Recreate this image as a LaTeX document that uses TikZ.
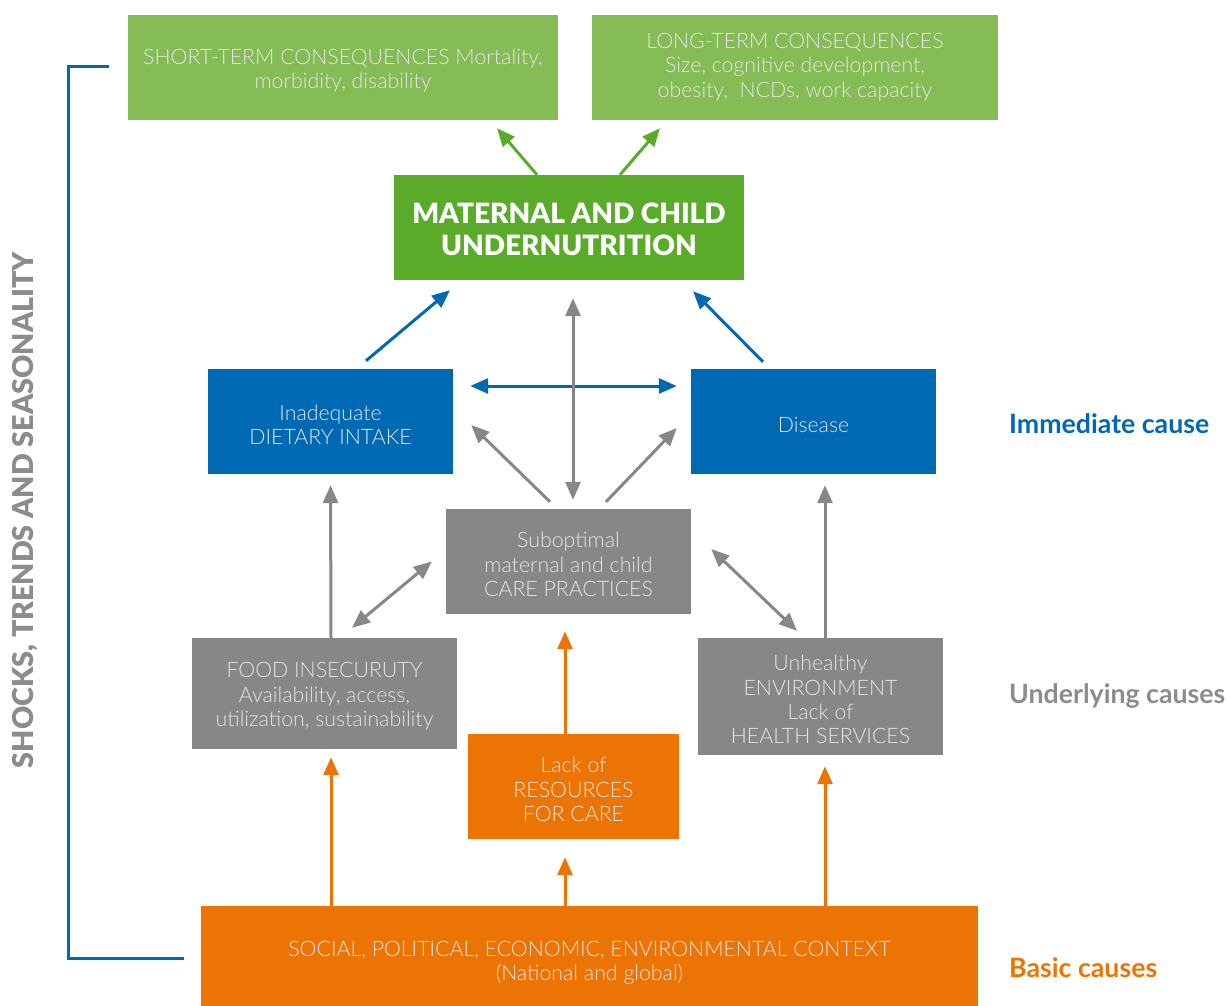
\documentclass[tikz,border=0pt]{standalone}
\usepackage{fontspec}
\setmainfont{Lato Light}
\newfontfamily\latoheavy{Lato Black}
\newfontfamily\latoreg{Lato}
\usetikzlibrary{arrows.meta,calc}
\definecolor{gLight}{HTML}{86BC56}
\definecolor{gDark}{HTML}{5AAB2A}
\definecolor{bBlue}{HTML}{0069B4}
\definecolor{bGray}{HTML}{878787}
\definecolor{bOrange}{HTML}{EC7404}
\definecolor{lGray}{HTML}{8C8C8C}
\tikzset{
  box/.style={rectangle, inner sep=0pt},
  txt/.style={inner sep=0pt, align=center, text=white!90!black,
    font=\fontsize{21.3}{24.3}\selectfont},
  conn/.style={line width=3pt, -{Triangle[length=18pt,width=15pt]}},
  dconn/.style={line width=3pt, {Triangle[length=18pt,width=15pt]}-{Triangle[length=18pt,width=15pt]}},
  sidelabel/.style={anchor=west, inner sep=0pt, font=\latoreg\bfseries\fontsize{26.7}{30}\selectfont},
}
\begin{document}
\begin{tikzpicture}[x=1pt,y=-1pt]
\useasboundingbox (0,0) rectangle (1227,1006);
% boxes
\node[box, fill=gLight, minimum width=430, minimum height=105] (st) at (343,67.5) {};
\node[txt] (stT) at ([yshift=-3]st.center)
  {SHORT-TERM CONSEQUENCES Mortality,\\morbidity, disability};
\node[box, fill=gLight, minimum width=406, minimum height=105] (lt) at (795,67.5) {};
\node[txt] (ltT) at ([yshift=0.5]lt.center)
  {LONG-TERM CONSEQUENCES\\Size, cognitive development,\\obesity,\ \ NCDs, work capacity};
\node[box, fill=gDark, minimum width=350, minimum height=105] (mat) at (569,227.5) {};
\node[txt, text=white, font=\latoheavy\fontsize{28}{32}\selectfont] (matT) at ([yshift=-2]mat.center)
  {MATERNAL AND CHILD\\UNDERNUTRITION};
\node[box, fill=bBlue, minimum width=245, minimum height=105] (diet) at (330.5,421.5) {};
\node[txt] (dietT) at ([yshift=-3]diet.center) {Inadequate\\DIETARY INTAKE};
\node[box, fill=bBlue, minimum width=245, minimum height=105] (dis) at (813.5,421.5) {};
\node[txt] (disT) at ([yshift=-3]dis.center) {Disease};
\node[box, fill=bGray, minimum width=245, minimum height=105] (care) at (568.5,561.5) {};
\node[txt] (careT) at ([yshift=-3]care.center) {Suboptimal\\maternal and child\\CARE PRACTICES};
\node[box, fill=bGray, minimum width=265, minimum height=111] (food) at (324.5,693.5) {};
\node[txt] (foodT) at ([yshift=-3]food.center) {FOOD INSECURUTY\\Availability, access,\\utilization, sustainability};
\node[box, fill=bGray, minimum width=245, minimum height=117] (env) at (820.5,696.5) {};
\node[txt] (envT) at ([yshift=-3]env.center) {Unhealthy\\ENVIRONMENT\\Lack of\\HEALTH SERVICES};
\node[box, fill=bOrange, minimum width=211, minimum height=105] (res) at (573.5,786.5) {};
\node[txt] (resT) at ([yshift=-3]res.center) {Lack of\\RESOURCES\\FOR CARE};
\node[box, fill=bOrange, minimum width=777, minimum height=100] (soc) at (589.5,956) {};
\node[txt] (socT) at ([yshift=-7]soc.center)
  {SOCIAL, POLITICAL, ECONOMIC, ENVIRONMENTAL CONTEXT\\(National and global)};
% side labels
\node[sidelabel, text=bBlue] (imm) at (1009,424) {Immediate cause};
\node[sidelabel, text=lGray] (und) at (1009,696) {Underlying causes};
\node[sidelabel, text=bOrange] (bas) at (1009,968) {Basic causes};
\node[rotate=90, inner sep=0pt, text=lGray, font=\latoheavy\fontsize{28.7}{32}\selectfont] (shk) at (25,510)
  {SHOCKS, TRENDS AND SEASONALITY};
% bracket
\coordinate (brT) at (109,67);
\coordinate (brB) at (184,958);
\draw[bBlue, line width=3pt] (brT) -| (68,958) -- (brB);
% green arrows
\draw[conn, gDark] ([xshift=-32]mat.north) -- ([xshift=154,yshift=-8]st.south);
\draw[conn, gDark] ([xshift=51]mat.north) -- ([xshift=-135,yshift=-8]lt.south);
% blue arrows
\draw[conn, bBlue] ([xshift=35.5,yshift=8]diet.north) -- ([xshift=-119,yshift=-10]mat.south);
\draw[conn, bBlue] ([xshift=-50.5,yshift=7]dis.north) -- ([xshift=124,yshift=-11]mat.south);
\draw[dconn, bBlue] ([xshift=17,yshift=35.5]diet.east) -- ([xshift=-14,yshift=35.5]dis.west);
% gray arrows
\draw[dconn, bGray] ([xshift=4.5,yshift=9]care.north) -- ([xshift=4,yshift=-18]mat.south);
\draw[conn, bGray] ([xshift=-18.5,yshift=7]care.north) -- ([xshift=18,yshift=-3.5]diet.east);
\draw[conn, bGray] ([xshift=37.5,yshift=7]care.north) -- ([xshift=-14,yshift=-6.5]dis.west);
\draw[conn, bGray] ([xshift=6.5]food.north) -- ([yshift=-11]diet.south);
\draw[dconn, bGray] ([xshift=27.5,yshift=10]food.north) -- ([xshift=-14]care.west);
\draw[dconn, bGray] ([xshift=20,yshift=12.5]care.east) -- ([xshift=-23.5,yshift=7]env.north);
\draw[conn, bGray] ([xshift=4.5]env.north) -- ([xshift=11.5,yshift=-11]dis.south);
% orange arrows
\draw[conn, bOrange] ([xshift=-258.5]soc.north) -- ([xshift=6.5,yshift=-8]food.south);
\draw[conn, bOrange] ([xshift=-24.5]soc.north) -- ([xshift=-8.5,yshift=-18]res.south);
\draw[conn, bOrange] ([xshift=235.5]soc.north) -- ([xshift=4.5,yshift=-11]env.south);
\draw[conn, bOrange] ([xshift=-8.5]res.north) -- ([xshift=-3.5,yshift=-17]care.south);
\end{tikzpicture}
\end{document}
